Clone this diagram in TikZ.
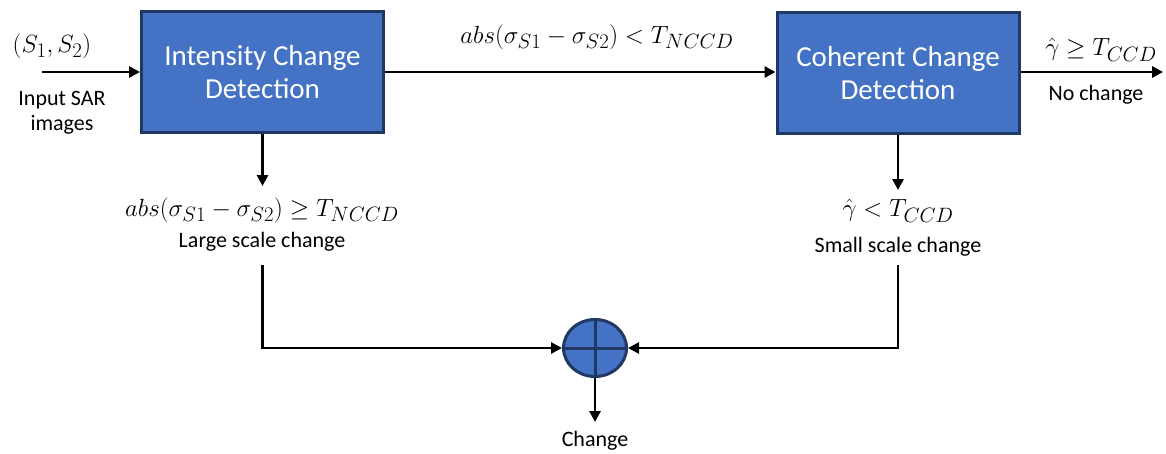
\documentclass[tikz,border=0pt]{standalone}
\usepackage{fontspec}
\setmainfont{Carlito}
\usetikzlibrary{arrows.meta,shapes.geometric}
\definecolor{boxfill}{HTML}{4472C4}
\definecolor{boxline}{HTML}{1F3864}
\begin{document}
\begin{tikzpicture}[x=1pt,y=-1pt,
  block/.style={draw=boxline,line width=3pt,fill=boxfill,text=white,align=center,
    minimum width=242pt,minimum height=121pt,inner sep=0pt,font=\fontsize{29}{33}\selectfont},
  conn/.style={line width=2.8pt,-{Triangle[length=11pt,width=11pt]}},
  lbl/.style={inner sep=0pt,align=center,font=\fontsize{22}{25}\selectfont},
  mlbl/.style={inner sep=0pt,font=\fontsize{28}{32}\selectfont}]
\useasboundingbox (0,0) rectangle (1166,453);
\node[block] (icd) at (262.5,72) {Intensity Change\\Detection};
\node[block] (ccd) at (898,73) {Coherent Change\\Detection};
\node[ellipse,draw=boxline,line width=3pt,fill=boxfill,minimum width=63pt,minimum height=57pt,inner sep=0pt] (sum) at (595,348) {};
\draw[boxline,line width=3pt] (sum.north) -- (sum.south) (sum.west) -- (sum.east);
\coordinate (in) at (42,72);
\coordinate (out) at (1163,72);
\coordinate (icdlow) at (262.5,186);
\coordinate (ccdlow) at (898,190);
\coordinate (lt) at (262.5,265);
\coordinate (rt) at (898,265);
\coordinate (chg) at (595,422);
\node[mlbl,font=\fontsize{30}{34}\selectfont] (s12) at (52,46) {$(S_1,S_2)$};
\node[lbl] (inlbl) at (62,113) {Input SAR\\images};
\node[mlbl] (midlbl) at (597,37) {$abs(\sigma_{S1}-\sigma_{S2})<T_{NCCD}$};
\node[mlbl] (outlbl) at (1101,50) {$\hat{\gamma}\geq T_{CCD}$};
\node[lbl] (nochg) at (1096,95) {No change};
\node[mlbl] (leftlbl) at (262,210) {$abs(\sigma_{S1}-\sigma_{S2})\geq T_{NCCD}$};
\node[lbl] (large) at (262,242) {Large scale change};
\node[mlbl] (rightlbl) at (898,211) {$\hat{\gamma}<T_{CCD}$};
\node[lbl] (small) at (898,247) {Small scale change};
\node[lbl] (change) at (595,441) {Change};
\draw[conn] (in) -- (icd.west);
\draw[conn] (icd.east) -- (ccd.west |- icd.east);
\draw[conn] (ccd.east |- out) -- (out);
\draw[conn] (icd.south) -- (icdlow);
\draw[conn] (ccd.south) -- (ccdlow);
\draw[conn] (lt) |- (sum.west);
\draw[conn] (rt) |- (sum.east);
\draw[conn] (sum.south) -- (chg);
\end{tikzpicture}
\end{document}
